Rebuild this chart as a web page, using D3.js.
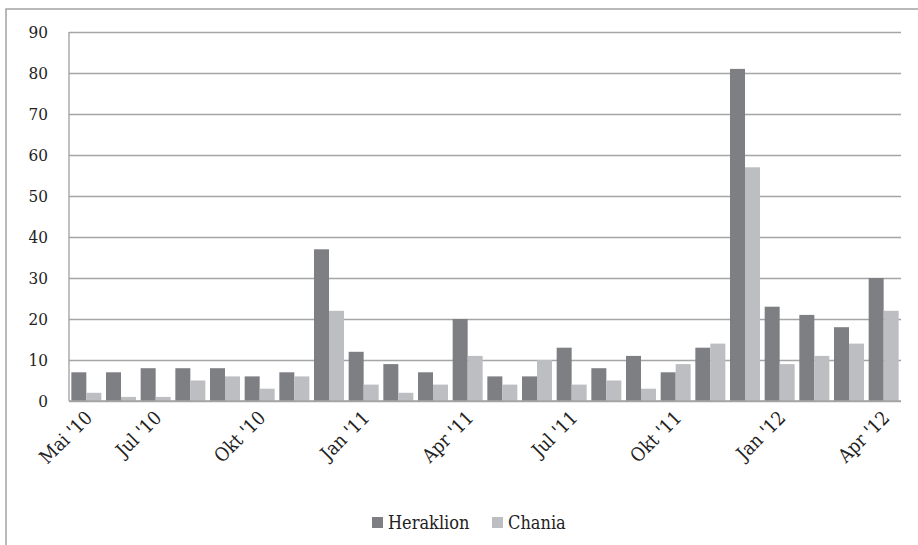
<!DOCTYPE html>
<html>
<head>
<meta charset="utf-8">
<script src="https://cdn.jsdelivr.net/npm/d3@7"></script>
<style>
  body { margin: 0; background: #fff; }
  svg text { font-stretch: condensed; }
</style>
</head>
<body>
<svg id="chart" width="918" height="545"></svg>
<script>
const months = ["Mai '10", "Jun '10", "Jul '10", "Aug '10", "Sep '10", "Okt '10", "Nov '10", "Dez '10",
  "Jan '11", "Feb '11", "Mär '11", "Apr '11", "Mai '11", "Jun '11", "Jul '11", "Aug '11", "Sep '11", "Okt '11",
  "Nov '11", "Dez '11", "Jan '12", "Feb '12", "Mär '12", "Apr '12"];
const heraklion = [7, 7, 8, 8, 8, 6, 7, 37, 12, 9, 7, 20, 6, 6, 13, 8, 11, 7, 13, 81, 23, 21, 18, 30];
const chania = [2, 1, 1, 5, 6, 3, 6, 22, 4, 2, 4, 11, 4, 10, 4, 5, 3, 9, 14, 57, 9, 11, 14, 22];
const shownLabels = ["Mai '10", "Jul '10", "Okt '10", "Jan '11", "Apr '11", "Jul '11", "Okt '11", "Jan '12", "Apr '12"];
const yTicks = [0, 10, 20, 30, 40, 50, 60, 70, 80, 90];

const seriesNames = ["Heraklion", "Chania"];
const colors = ["#7e7f83", "#bdbec1"];
const fontFamily = "'DejaVu Serif Condensed', 'DejaVu Serif', serif";

const svg = d3.select("#chart");
const margin = { left: 69, right: 17, top: 32, bottom: 144 };
const width = 918 - margin.left - margin.right;
const height = 545 - margin.top - margin.bottom;

// outer frame (only left and top edges are visible)
svg.append("path")
  .attr("d", "M6,545 L6,9 L918,9")
  .attr("fill", "none")
  .attr("stroke", "#a3a3a3")
  .attr("stroke-width", 1.5);

const g = svg.append("g").attr("transform", `translate(${margin.left},${margin.top})`);

const x = d3.scaleBand().domain(months).range([0, width]).paddingInner(0.135).paddingOuter(0.0675);
const xInner = d3.scaleBand().domain(seriesNames).range([0, x.bandwidth()]);
const y = d3.scaleLinear().domain([0, 90]).range([height, 0]);

// gridlines
g.append("g")
  .call(d3.axisLeft(y).tickValues(yTicks).tickSize(-width).tickFormat(""))
  .call(a => a.select(".domain").remove())
  .selectAll("line")
  .attr("stroke", "#a5a5a5")
  .attr("stroke-width", 1.4);

// y axis labels
g.append("g")
  .call(d3.axisLeft(y).tickValues(yTicks).tickSize(0).tickPadding(21))
  .call(a => a.select(".domain").remove())
  .attr("font-family", fontFamily)
  .attr("font-size", 17)
  .selectAll("text")
  .attr("fill", "#222");

// bars
const groups = g.append("g")
  .selectAll("g")
  .data(months)
  .join("g")
  .attr("transform", d => `translate(${x(d)},0)`);

groups.selectAll("rect")
  .data((d, i) => [heraklion[i], chania[i]].map((v, k) => ({ name: seriesNames[k], value: v })))
  .join("rect")
  .attr("x", d => xInner(d.name))
  .attr("width", xInner.bandwidth())
  .attr("y", d => y(d.value))
  .attr("height", d => y(0) - y(d.value))
  .attr("fill", (d, k) => colors[k]);

// axis lines
g.append("line")
  .attr("x1", 0).attr("x2", 0).attr("y1", 0).attr("y2", height)
  .attr("stroke", "#a5a5a5").attr("stroke-width", 1.4);
g.append("line")
  .attr("x1", 0).attr("x2", width).attr("y1", height).attr("y2", height)
  .attr("stroke", "#a5a5a5").attr("stroke-width", 1.4);

// x labels, rotated
g.append("g")
  .selectAll("text")
  .data(shownLabels)
  .join("text")
  .attr("transform", d => `translate(${x(d) + x.bandwidth() / 2 + 7},${height + 18}) rotate(-45)`)
  .attr("text-anchor", "end")
  .attr("font-family", fontFamily)
  .attr("font-size", 19)
  .attr("fill", "#222")
  .text(d => d);

// legend
const legend = svg.append("g").attr("transform", "translate(372,517)");
const legendX = [0, 120];
seriesNames.forEach((name, k) => {
  const item = legend.append("g").attr("transform", `translate(${legendX[k]},0)`);
  item.append("rect").attr("width", 11).attr("height", 11).attr("fill", colors[k]);
  item.append("text").attr("x", 16).attr("y", 11.5)
    .attr("font-family", fontFamily)
    .attr("font-size", 18)
    .attr("fill", "#222")
    .text(name);
});
</script>
</body>
</html>
